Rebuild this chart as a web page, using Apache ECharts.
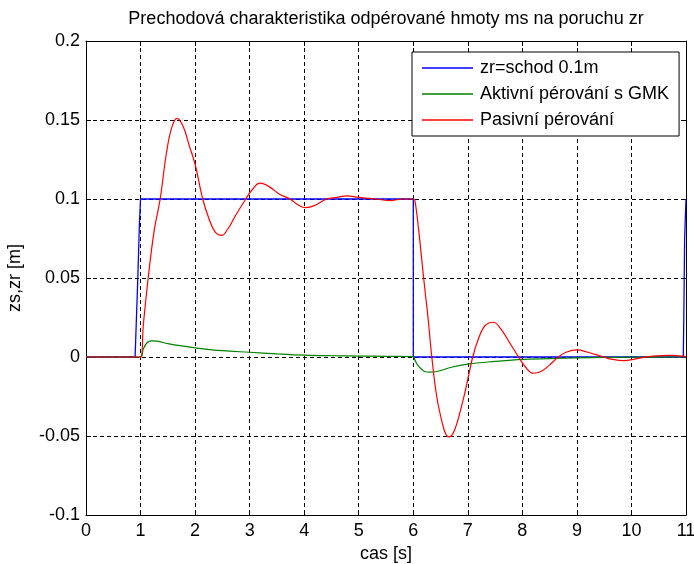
<!DOCTYPE html>
<html>
<head>
<meta charset="utf-8">
<script src="https://cdn.jsdelivr.net/npm/echarts@6/dist/echarts.min.js"></script>
<style>
html,body{margin:0;padding:0;background:#fff;}
#c{width:694px;height:564px;}
</style>
</head>
<body>
<div id="c"></div>
<script>
var titleText = 'Prechodová charakteristika odpérované hmoty ms na poruchu zr';
var xName = 'cas [s]';
var yName = 'zs,zr [m]';
var seriesNames = ['zr=schod 0.1m', 'Aktivní pérování s GMK', 'Pasivní pérování'];

var zrTime  = [0, 0.9, 0.92, 0.95, 0.98, 1.0, 6.0, 6.0, 10.95, 10.96, 10.975, 11];
var zrValue = [0, 0, 0.02, 0.05, 0.085, 0.1, 0.1, 0, 0, 0.025, 0.075, 0.1];

var activeTime  = [0, 1.0, 1.05, 1.12, 1.2, 1.3, 1.5, 1.75, 2.0, 2.5, 3.0, 3.5, 4.0, 4.5, 5.0, 5.5, 6.0,
                   6.03, 6.1, 6.2, 6.3, 6.45, 6.7, 7.0, 7.5, 8.0, 8.5, 9.0, 9.5, 10.0, 11];
var activeValue = [0, 0, 0.005, 0.009, 0.0102, 0.01, 0.0085, 0.007, 0.0058, 0.004, 0.003, 0.002, 0.0012, 0.0008, 0.0006, 0.0004, 0.0003,
                   -0.002, -0.006, -0.009, -0.0096, -0.009, -0.0065, -0.0045, -0.0028, -0.0015, -0.001, -0.0006, -0.0003, -0.0001, 0];

var passiveTime  = [0, 1.0, 1.05, 1.14, 1.25, 1.36, 1.47, 1.57, 1.67, 1.78, 1.9, 2.0, 2.14, 2.25, 2.37, 2.49, 2.6, 2.75, 2.93,
                    3.05, 3.19, 3.35, 3.55, 3.74, 3.9, 4.03, 4.2, 4.41, 4.6, 4.78, 5.0, 5.3, 5.6, 5.8, 6.0,
                    6.03, 6.1, 6.19, 6.27, 6.34, 6.43, 6.54, 6.6, 6.66, 6.72, 6.8, 6.95, 7.09, 7.2, 7.32, 7.47, 7.6, 7.75, 7.93,
                    8.05, 8.2, 8.35, 8.5, 8.66, 8.8, 9.0, 9.2, 9.49, 9.65, 9.86, 10.1, 10.4, 10.7, 10.95, 11];
var passiveValue = [0, 0, 0.02, 0.05, 0.08, 0.1, 0.128, 0.145, 0.151, 0.146, 0.133, 0.122, 0.1, 0.088, 0.079, 0.077, 0.081, 0.09, 0.1,
                    0.106, 0.11, 0.108, 0.103, 0.1, 0.096, 0.0945, 0.096, 0.1, 0.101, 0.102, 0.101, 0.1, 0.099, 0.1, 0.1,
                    0.099, 0.08, 0.05, 0.025, 0, -0.025, -0.043, -0.049, -0.0505, -0.049, -0.042, -0.022, 0, 0.012, 0.02, 0.022, 0.018, 0.01, 0,
                    -0.006, -0.0103, -0.009, -0.005, 0, 0.003, 0.0045, 0.003, 0, -0.0015, -0.0023, -0.001, 0.0005, 0.001, 0.0005, 0];

var xTicks = {min: 0, max: 11, interval: 1};
var yTicks = {min: -0.1, max: 0.2, interval: 0.05};

function zip(t, v) { return t.map(function (x, i) { return [x, v[i]]; }); }

var FONT = 'Liberation Sans';
var FS = 18;
var chart = echarts.init(document.getElementById('c'), null, {renderer: 'canvas'});

var tickStyle = {show: true, inside: true, length: 5, lineStyle: {color: '#000', width: 1}};
var lineAx = {show: true, onZero: false, lineStyle: {color: '#000', width: 1}};

chart.setOption({
  animation: false,
  backgroundColor: '#fff',
  title: {
    text: titleText, left: 381, top: 5, textAlign: 'center',
    textStyle: {fontFamily: FONT, fontSize: FS, fontWeight: 'normal', color: '#000'}
  },
  grid: {left: 86, right: 8, top: 41, bottom: 49, containLabel: false, outerBoundsMode: 'none'},
  legend: {
    orient: 'vertical', left: 412, top: 52,
    data: seriesNames,
    icon: 'rect', itemWidth: 51, itemHeight: 1.5, itemGap: 6,
    padding: [6, 10, 6, 10],
    backgroundColor: '#fff', borderColor: '#000', borderWidth: 1, borderRadius: 0,
    textStyle: {fontFamily: FONT, fontSize: FS, color: '#000', lineHeight: 20, padding: [0, 0, 0, 2]},
    selectedMode: false
  },
  xAxis: [{
    type: 'value', min: xTicks.min, max: xTicks.max, interval: xTicks.interval,
    position: 'bottom',
    name: xName, nameLocation: 'middle', nameGap: 27,
    nameTextStyle: {fontFamily: FONT, fontSize: FS, color: '#000'},
    axisLine: lineAx, axisTick: tickStyle,
    axisLabel: {fontFamily: FONT, fontSize: FS, color: '#000', margin: 7},
    splitLine: {show: true, lineStyle: {color: '#000', width: 1, type: [4, 3]}}
  }, {
    type: 'value', min: xTicks.min, max: xTicks.max, interval: xTicks.interval,
    position: 'top', axisLine: lineAx, axisTick: tickStyle,
    axisLabel: {show: false}, splitLine: {show: false}
  }],
  yAxis: [{
    type: 'value', min: yTicks.min, max: yTicks.max, interval: yTicks.interval,
    position: 'left',
    name: yName, nameLocation: 'middle', nameGap: 62, nameRotate: 90,
    nameTextStyle: {fontFamily: FONT, fontSize: FS, color: '#000'},
    axisLine: lineAx, axisTick: tickStyle,
    axisLabel: {fontFamily: FONT, fontSize: FS, color: '#000', margin: 6},
    splitLine: {show: true, lineStyle: {color: '#000', width: 1, type: [4, 3]}}
  }, {
    type: 'value', min: yTicks.min, max: yTicks.max, interval: yTicks.interval,
    position: 'right', axisLine: lineAx, axisTick: tickStyle,
    axisLabel: {show: false}, splitLine: {show: false}
  }],
  series: [{
    name: seriesNames[0], type: 'line', data: zip(zrTime, zrValue),
    showSymbol: false, symbol: 'none', color: '#0000ff',
    lineStyle: {color: '#0000ff', width: 1.3}
  }, {
    name: seriesNames[1], type: 'line', data: zip(activeTime, activeValue),
    showSymbol: false, symbol: 'none', color: '#008000', smooth: 0.4,
    lineStyle: {color: '#008000', width: 1.2}
  }, {
    name: seriesNames[2], type: 'line', data: zip(passiveTime, passiveValue),
    showSymbol: false, symbol: 'none', color: '#ff0000', smooth: 0.4,
    lineStyle: {color: '#ff0000', width: 1.2}
  }]
});
</script>
</body>
</html>
